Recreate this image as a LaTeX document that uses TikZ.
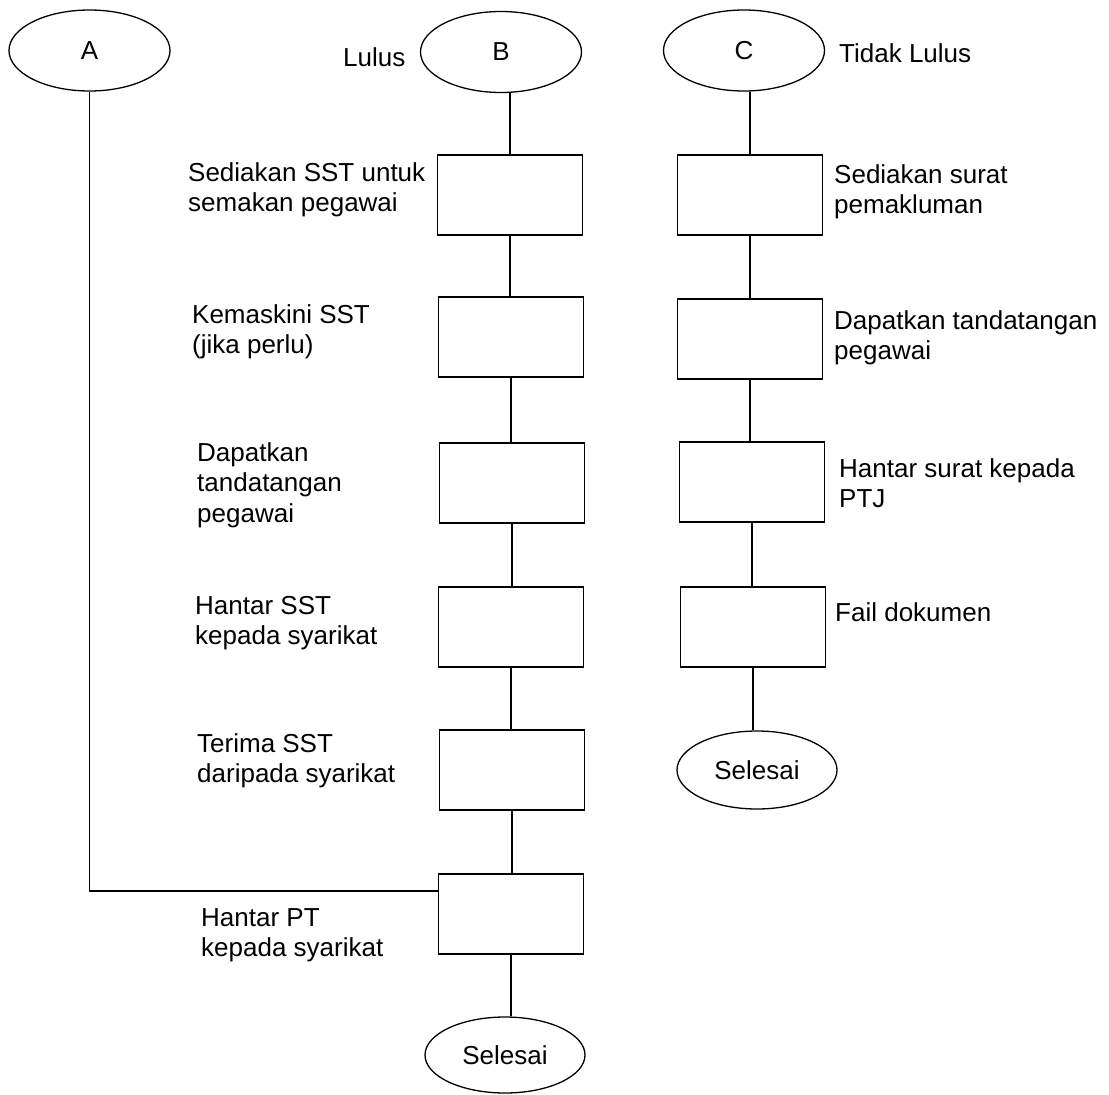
\documentclass[tikz,border=0pt]{standalone}
\usepackage{fontspec}
\setmainfont{Liberation Sans}
\usetikzlibrary{shapes.geometric}
\begin{document}
\begin{tikzpicture}[x=1pt,y=-1pt,
  every node/.style={font=\fontsize{26}{30.5}\selectfont},
  term/.style={draw, ellipse, line width=1.3pt, minimum width=161pt, minimum height=81pt, inner sep=0pt},
  proc/.style={draw, rectangle, line width=1.3pt, minimum width=145pt, minimum height=80pt, inner sep=0pt},
  lbl/.style={anchor=base west, align=left, inner sep=0pt},
  conn/.style={line width=1.3pt}]
\useasboundingbox (0,0) rectangle (1109,1095);
% start terminals
\node[term] (A) at (89.5,50.5) {A};
\node[term] (B) at (501,52) {B};
\node[term] (C) at (744,50.5) {C};
\node[lbl] (lulus) at (343,66) {Lulus};
\node[lbl] (tidak) at (839,62) {Tidak Lulus};
% column B
\node[proc] (b1) at (510,195) {};
\node[proc] (b2) at (511,337) {};
\node[proc] (b3) at (512,483) {};
\node[proc] (b4) at (511,627) {};
\node[proc] (b5) at (512,770) {};
\node[proc] (b6) at (511,914) {};
\node[term, minimum width=160pt, minimum height=76pt] (sb) at (505,1055) {Selesai};
% column C
\node[proc] (c1) at (750,195) {};
\node[proc] (c2) at (750,339) {};
\node[proc] (c3) at (752,482) {};
\node[proc] (c4) at (753,627) {};
\node[term, minimum width=160pt, minimum height=78pt] (sc) at (757,770) {Selesai};
% labels column B (anchor = baseline of last line)
\node[lbl] (t1) at (188,211.5) {Sediakan SST untuk\\semakan pegawai};
\node[lbl] (t2) at (192,353.5) {Kemaskini SST\\(jika perlu)};
\node[lbl] (t3) at (197,522) {Dapatkan\\tandatangan\\pegawai};
\node[lbl] (t4) at (195,644.5) {Hantar SST\\kepada syarikat};
\node[lbl] (t5) at (197,782.5) {Terima SST\\daripada syarikat};
\node[lbl] (t6) at (201,956.5) {Hantar PT\\kepada syarikat};
% labels column C
\node[lbl] (u1) at (834,213.5) {Sediakan surat\\pemakluman};
\node[lbl] (u2) at (834,359.5) {Dapatkan tandatangan\\pegawai};
\node[lbl] (u3) at (839,507.5) {Hantar surat kepada\\PTJ};
\node[lbl] (u4) at (835,621) {Fail dokumen};
% connectors
\path (b6.west) ++(0,-23) coordinate (j);
\draw[conn] (A.south) |- (j);
\draw[conn] (b1.north) -- (b1.north |- B.south);
\draw[conn] (b1.south) -- (b1.south |- b2.north);
\draw[conn] (b2.south) -- (b2.south |- b3.north);
\draw[conn] (b3.south) -- (b3.south |- b4.north);
\draw[conn] (b4.south) -- (b4.south |- b5.north);
\draw[conn] (b5.south) -- (b5.south |- b6.north);
\draw[conn] (b6.south) -- (b6.south |- sb.north);
\draw[conn] (c1.north) -- (c1.north |- C.south);
\draw[conn] (c1.south) -- (c1.south |- c2.north);
\draw[conn] (c2.south) -- (c2.south |- c3.north);
\draw[conn] (c3.south) -- (c3.south |- c4.north);
\draw[conn] (c4.south) -- (c4.south |- sc.north);
\end{tikzpicture}
\end{document}
